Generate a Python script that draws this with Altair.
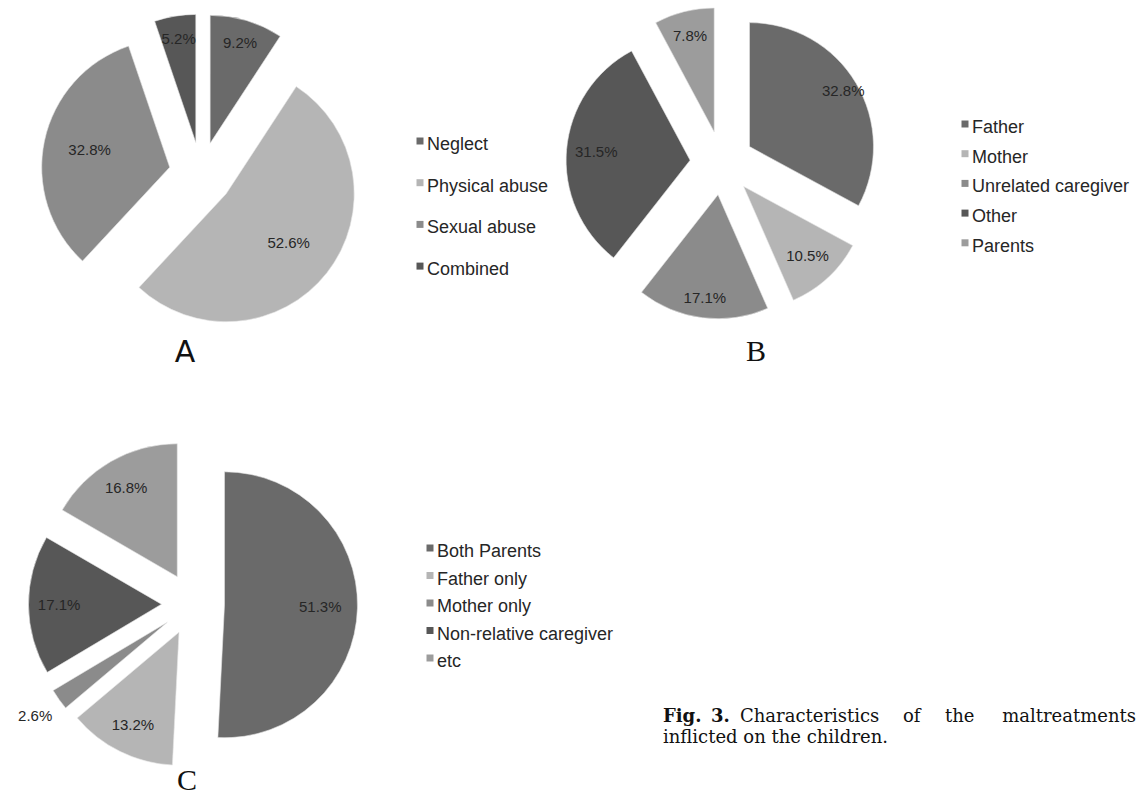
import math

import altair as alt
import pandas as pd

# ---- values -------------------------------------------------------------
a_categories = ["Neglect", "Physical abuse", "Sexual abuse", "Combined"]
a_values = [9.2, 52.6, 32.8, 5.2]

b_categories = ["Father", "Mother", "Unrelated caregiver", "Other", "Parents"]
b_values = [32.8, 10.5, 17.1, 31.5, 7.8]

c_categories = ["Both Parents", "Father only", "Mother only",
                "Non-relative caregiver", "etc"]
c_values = [51.3, 13.2, 2.6, 17.1, 16.8]

# ---- styling / layout ----------------------------------------------------
grays = ["#6a6a6a", "#b5b5b5", "#8b8b8b", "#575757", "#9c9c9c"]

W, H = 1137, 798
layout = {
    "A": dict(cx=201, cy=174, r=128, d=32, leg_x=427, leg_y=150, leg_step=41.7,
              title_x=185, title_y=362, title_font="DejaVu Sans"),
    "B": dict(cx=722, cy=163, r=124, d=32, leg_x=972, leg_y=133, leg_step=29.7,
              title_x=756, title_y=361, title_font="Liberation Serif"),
    "C": dict(cx=193, cy=604, r=133, d=31.5, leg_x=437, leg_y=557, leg_step=27.5,
              title_x=187, title_y=790, title_font="Liberation Serif"),
}
# distance of each percentage label from its slice tip, as a share of the radius
label_reach = {
    "A": [0.82, 0.62, 0.64, 0.82],
    "B": [0.88, 0.76, 0.84, 0.76, 0.80],
    "C": [0.72, 0.78, 1.22, 0.77, 0.77],
}

panels = [("A", a_categories, a_values),
          ("B", b_categories, b_values),
          ("C", c_categories, c_values)]

rows = []
for name, cats, vals in panels:
    lay = layout[name]
    for i, (cat, val) in enumerate(zip(cats, vals)):
        rows.append(dict(panel=name, category=cat, value=val, order=i,
                         reach=label_reach[name][i],
                         cx=lay["cx"], cy=lay["cy"], r=lay["r"], d=lay["d"],
                         leg_x=lay["leg_x"], leg_y=lay["leg_y"],
                         leg_step=lay["leg_step"]))
df = pd.DataFrame(rows)

base = (
    alt.Chart(df)
    .transform_joinaggregate(total="sum(value)", groupby=["panel"])
    .transform_window(cum="sum(value)", groupby=["panel"],
                      sort=[alt.SortField("order")], frame=[None, 0])
    .transform_calculate(
        f0="(datum.cum - datum.value) / datum.total",
        f1="datum.cum / datum.total",
    )
    .transform_calculate(
        mid="PI * (datum.f0 + datum.f1)",
    )
    .transform_calculate(
        ax="datum.cx + datum.d * sin(datum.mid)",
        ay="datum.cy - datum.d * cos(datum.mid)",
    )
    .transform_calculate(
        lx="datum.ax + datum.reach * datum.r * sin(datum.mid)",
        ly="datum.ay - datum.reach * datum.r * cos(datum.mid)",
        pct="format(datum.value, '.1f') + '%'",
        gy="datum.leg_y + datum.order * datum.leg_step",
    )
)

shade = alt.Color("order:O", scale=alt.Scale(domain=[0, 1, 2, 3, 4], range=grays),
                  legend=None)

# exploded slices: each wedge pushed out along its own bisector
slices = base.mark_arc(stroke="#e6e6e6", strokeWidth=0.6).encode(
    x=alt.X("ax:Q", scale=None, axis=None),
    y=alt.Y("ay:Q", scale=None, axis=None),
    theta=alt.Theta("f0:Q", scale=alt.Scale(domain=[0, 1], range=[0, 2 * math.pi])),
    theta2="f1:Q",
    radius=alt.Radius("r:Q", scale=None),
    color=shade,
)

pct_labels = base.mark_text(font="Liberation Sans", fontSize=15, color="#262626",
                            baseline="middle", align="center").encode(
    x=alt.X("lx:Q", scale=None, axis=None),
    y=alt.Y("ly:Q", scale=None, axis=None),
    text="pct:N",
)

# legends
legend_marks = base.mark_square(size=49, opacity=1).encode(
    x=alt.X("leg_x:Q", scale=None, axis=None),
    y=alt.Y("gy:Q", scale=None, axis=None),
    color=shade,
).transform_calculate(leg_x="datum.leg_x - 7", gy="datum.gy - 9")

legend_text = base.mark_text(font="Liberation Sans", fontSize=18, color="#262626",
                             align="left", baseline="alphabetic").encode(
    x=alt.X("leg_x:Q", scale=None, axis=None),
    y=alt.Y("gy:Q", scale=None, axis=None),
    text="category:N",
)

# panel letters
letters = []
for name in ["A", "B", "C"]:
    lay = layout[name]
    letters.append(
        alt.Chart(alt.Data(values=[{"t": name}]))
        .mark_text(font=lay["title_font"], fontSize=30, color="#111",
                   align="center", baseline="alphabetic")
        .encode(x=alt.value(lay["title_x"]), y=alt.value(lay["title_y"]),
                text="t:N")
    )

# figure caption, first line justified word by word
caption_words = [
    ("Fig.", 663, 722, "bold", "left"),
    ("3.", 711, 722, "bold", "left"),
    ("Characteristics", 740, 722, "normal", "left"),
    ("of", 903, 722, "normal", "left"),
    ("the", 945, 722, "normal", "left"),
    ("maltreatments", 1136, 722, "normal", "right"),
    ("inflicted on the children.", 663, 743, "normal", "left"),
]
caption = []
for word, x, y, weight, align in caption_words:
    caption.append(
        alt.Chart(alt.Data(values=[{"t": word}]))
        .mark_text(font="DejaVu Serif", fontSize=18, color="#111",
                   fontWeight=weight, align=align, baseline="alphabetic")
        .encode(x=alt.value(x), y=alt.value(y), text="t:N")
    )

chart = (
    alt.layer(slices, pct_labels, legend_marks, legend_text, *letters, *caption)
    .properties(width=W, height=H, autosize="none", padding=0,
                background="white")
    .configure_view(stroke=None)
)

chart.save("out.html", embed_options={"renderer": "svg", "actions": False})
